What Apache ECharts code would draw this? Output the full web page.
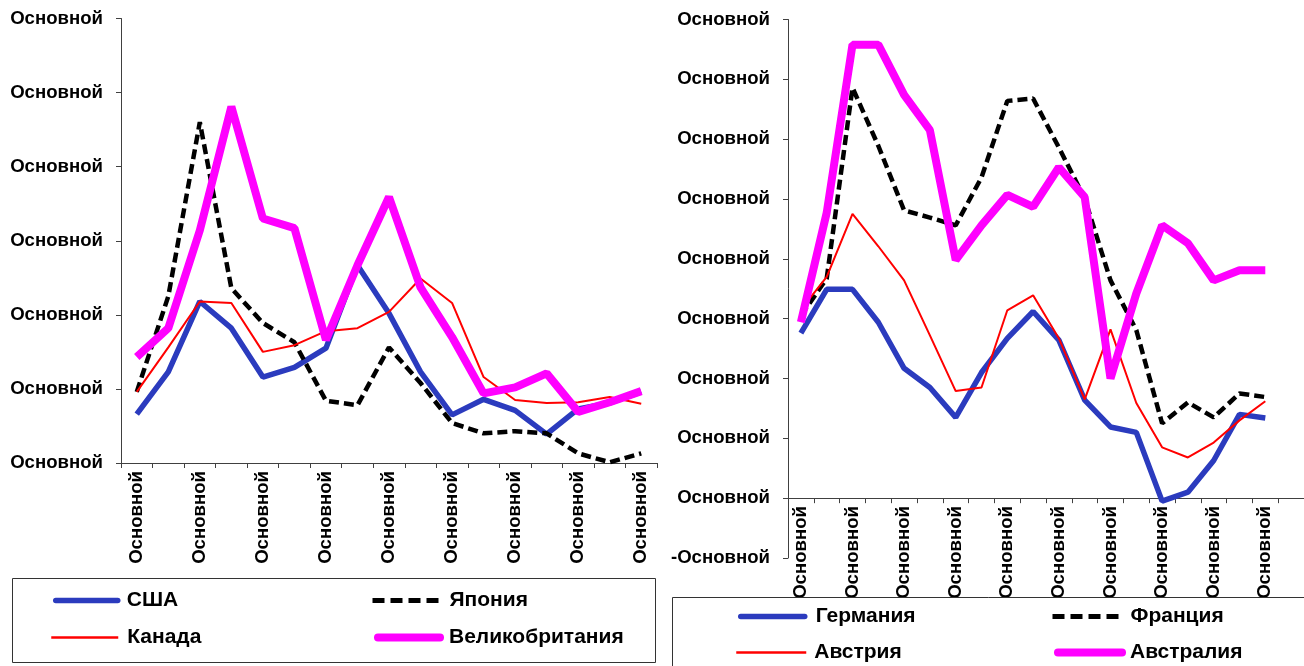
<!DOCTYPE html>
<html>
<head>
<meta charset="utf-8">
<script src="https://cdn.jsdelivr.net/npm/echarts@6/dist/echarts.min.js"></script>
<style>html,body{margin:0;padding:0;background:#fff}#c{width:1304px;height:666px}</style>
</head>
<body>
<div id="c"></div>
<script>
// ---- data ----
var catsLeft = ['Основной','Основной','Основной','Основной','Основной','Основной','Основной','Основной','Основной','Основной','Основной','Основной','Основной','Основной','Основной','Основной','Основной'];
var catsRight = ['Основной','Основной','Основной','Основной','Основной','Основной','Основной','Основной','Основной','Основной','Основной','Основной','Основной','Основной','Основной','Основной','Основной','Основной','Основной',''];
var yTicksLeft = ['Основной','Основной','Основной','Основной','Основной','Основной','Основной'];          // values 0..6
var yTicksRight = ['-Основной','Основной','Основной','Основной','Основной','Основной','Основной','Основной','Основной','Основной']; // values -1..8

var usa       = [0.66,1.23,2.18,1.82,1.16,1.29,1.55,2.67,2.02,1.23,0.65,0.86,0.71,0.39,0.73,0.81,0.96];
var japan     = [0.96,2.25,4.60,2.36,1.89,1.63,0.84,0.78,1.56,1.08,0.54,0.40,0.43,0.40,0.13,0.01,0.13];
var canada    = [0.96,1.56,2.18,2.16,1.50,1.59,1.78,1.82,2.04,2.49,2.16,1.16,0.85,0.81,0.82,0.89,0.80];
var uk        = [1.43,1.82,3.14,4.81,3.30,3.17,1.66,2.67,3.59,2.37,1.70,0.94,1.02,1.21,0.69,0.82,0.97];

var germany   = [2.76,3.49,3.49,2.94,2.17,1.85,1.35,2.10,2.67,3.12,2.64,1.64,1.19,1.10,-0.05,0.10,0.63,1.40,1.34];
var france    = [3.05,3.67,6.86,5.89,4.81,4.69,4.56,5.36,6.64,6.68,5.86,5.01,3.64,2.81,1.25,1.60,1.35,1.75,1.69];
var austria   = [3.15,3.70,4.75,4.21,3.64,2.72,1.79,1.85,3.14,3.39,2.67,1.65,2.82,1.59,0.85,0.68,0.93,1.30,1.62];
var australia = [2.94,4.77,7.58,7.58,6.74,6.15,3.98,4.56,5.07,4.87,5.53,5.03,2.00,3.42,4.56,4.26,3.64,3.81,3.81];

var names = ['США','Япония','Канада','Великобритания','Германия','Франция','Австрия','Австралия'];

// ---- styles ----
var FONT = '"Liberation Sans", Arial, sans-serif';
var axisColor = '#404040';
var BLUE = '#2B3BBE', BLACK = '#000000', RED = '#FF0000', MAGENTA = '#FF00FF';
var lineStyles = [
  {color: BLUE, width: 5.5},
  {color: BLACK, width: 4.5, type: [10, 5]},
  {color: RED, width: 2},
  {color: MAGENTA, width: 8}
];
var legendLineStyles = [
  {color: BLUE, width: 5.5, cap: 'round'},
  {color: BLACK, width: 5, type: [12, 6]},
  {color: RED, width: 2.5},
  {color: MAGENTA, width: 8, cap: 'round'}
];

function yAxis(gi, min, max, labels) {
  return {
    type: 'value', gridIndex: gi, min: min, max: max, interval: 1,
    splitLine: {show: false},
    axisLine: {show: true, lineStyle: {color: axisColor, width: 1}},
    axisTick: {show: true, length: 5, lineStyle: {color: axisColor}},
    axisLabel: {
      margin: 18, color: '#000', fontWeight: 'bold', fontSize: 18.6, fontFamily: FONT,
      formatter: function (v) { return labels[Math.round(v - min)]; }
    }
  };
}
function xAxis(gi, cats, margin) {
  return {
    type: 'category', gridIndex: gi, data: cats, boundaryGap: true,
    axisLine: {show: true, onZero: true, lineStyle: {color: axisColor, width: 1}},
    axisTick: {show: true, interval: 0, length: 5, lineStyle: {color: axisColor}},
    axisLabel: {interval: 1, rotate: 90, margin: margin, color: '#000', fontWeight: 'bold', fontSize: 18.6, fontFamily: FONT}
  };
}
function line(name, data, gi, st) {
  return {
    name: name, type: 'line', xAxisIndex: gi, yAxisIndex: gi, data: data,
    symbol: 'none', lineStyle: st, itemStyle: {color: st.color}, silent: true
  };
}
function legend(name, left, top, st, w, pad) {
  return {
    data: [name], left: left, top: top, padding: 0, itemWidth: w, itemHeight: 14, itemGap: 0,
    selectedMode: false,
    lineStyle: st,
    itemStyle: {color: 'rgba(0,0,0,0)', borderColor: 'rgba(0,0,0,0)', borderWidth: 0, opacity: 0},
    textStyle: {color: '#000', fontWeight: 'bold', fontSize: 21, fontFamily: FONT, padding: [0,0,0,pad]}
  };
}

var option = {
  animation: false,
  backgroundColor: '#fff',
  grid: [
    {left: 121, top: 18.5, width: 536, height: 444.5},
    {left: 788, top: 19.5, width: 516, height: 538.5}
  ],
  xAxis: [xAxis(0, catsLeft, 8), xAxis(1, catsRight, -52)],
  yAxis: [yAxis(0, 0, 6, yTicksLeft), yAxis(1, -1, 8, yTicksRight)],
  legend: [
    legend(names[0], 53, 590, legendLineStyles[0], 62, 4), legend(names[1], 370, 590, legendLineStyles[1], 70, 2),
    legend(names[2], 50, 627, legendLineStyles[2], 67, 4), legend(names[3], 374, 627, legendLineStyles[3], 62, 4),
    legend(names[4], 738, 606, legendLineStyles[0], 64, 6), legend(names[5], 1050, 606, legendLineStyles[1], 72, 1),
    legend(names[6], 735, 642, legendLineStyles[2], 70, 3), legend(names[7], 1054, 642, legendLineStyles[3], 64, 3)
  ],
  graphic: [
    {type: 'rect', left: 12, top: 578, z: 1, shape: {width: 643, height: 84}, style: {fill: '#fff', stroke: '#333', lineWidth: 1}},
    {type: 'rect', left: 672, top: 597, z: 1, shape: {width: 650, height: 90}, style: {fill: '#fff', stroke: '#333', lineWidth: 1}}
  ],
  series: [
    line(names[0], usa, 0, lineStyles[0]),
    line(names[1], japan, 0, lineStyles[1]),
    line(names[2], canada, 0, lineStyles[2]),
    line(names[3], uk, 0, lineStyles[3]),
    line(names[4], germany, 1, lineStyles[0]),
    line(names[5], france, 1, lineStyles[1]),
    line(names[6], austria, 1, lineStyles[2]),
    line(names[7], australia, 1, lineStyles[3])
  ]
};
var chart = echarts.init(document.getElementById('c'), null, {renderer: 'canvas'});
chart.setOption(option);
</script>
</body>
</html>
